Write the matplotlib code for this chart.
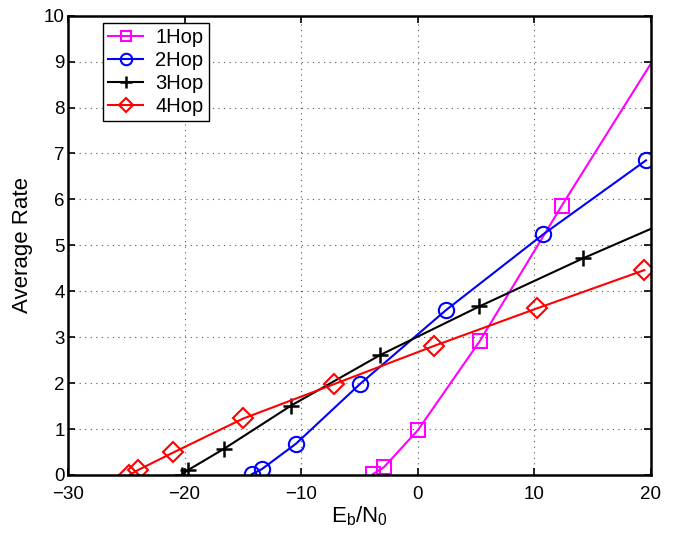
import matplotlib
matplotlib.use("Agg")
import matplotlib.pyplot as plt

plt.rcParams['font.family'] = ['Liberation Sans', 'DejaVu Sans']
plt.rcParams['mathtext.fontset'] = 'custom'
plt.rcParams['mathtext.rm'] = 'Liberation Sans'
plt.rcParams['mathtext.it'] = 'Liberation Sans'

# Data
x_1hop = [-3.84, -2.9, 0.02, 5.33, 12.34, 20.0]
y_1hop = [0.02, 0.17, 0.98, 2.92, 5.86, 8.96]

x_2hop = [-14.22, -13.36, -10.45, -4.96, 2.42, 10.76, 19.57]
y_2hop = [0.02, 0.13, 0.68, 1.98, 3.59, 5.24, 6.85]

x_3hop = [-20.25, -19.68, -16.62, -10.87, -3.24, 5.28, 14.2, 20.0]
y_3hop = [0.01, 0.11, 0.57, 1.51, 2.61, 3.67, 4.72, 5.36]

x_4hop = [-24.74, -23.97, -20.97, -14.96, -7.16, 1.39, 10.25, 19.43]
y_4hop = [0.0, 0.11, 0.49, 1.23, 1.98, 2.81, 3.63, 4.46]

labels = ['1Hop', '2Hop', '3Hop', '4Hop']
xticks = [-30, -20, -10, 0, 10, 20]
yticks = list(range(0, 11))

fig = plt.figure(figsize=(6.75, 5.34), dpi=100)
ax = fig.add_axes([0.1007, 0.1105, 0.8637, 0.8601])

ax.plot(x_1hop, y_1hop, color='#ff00ff', marker='s', ms=10, mfc='none', mew=1.5, lw=1.5,
        markevery=[0, 1, 2, 3, 4], label=labels[0])
ax.plot(x_2hop, y_2hop, color='#0000ff', marker='o', ms=11, mfc='none', mew=1.5, lw=1.5,
        label=labels[1])
ax.plot(x_3hop, y_3hop, color='black', marker='+', ms=12, mew=1.8, lw=1.5,
        markevery=[0, 1, 2, 3, 4, 5, 6], label=labels[2])
ax.plot(x_4hop, y_4hop, color='#ff0000', marker='D', ms=10, mfc='none', mew=1.5, lw=1.5,
        label=labels[3])

ax.set_xlim(-30, 20)
ax.set_ylim(0, 10)
ax.set_xticks(xticks)
ax.set_yticks(yticks)
ax.set_xticklabels(['\u2212' + str(-t) if t < 0 else str(t) for t in xticks])
ax.tick_params(direction='in', length=5, width=1.2, labelsize=13.5, top=True, right=True)
ax.tick_params(axis='x', pad=8)
ax.tick_params(axis='y', pad=2.5)
ax.grid(True, linestyle=(0, (1, 4)), color='#555555', linewidth=0.8)
for s in ax.spines.values():
    s.set_linewidth(1.8)

ax.set_xlabel('E$_\\mathregular{b}$/N$_\\mathregular{0}$', fontsize=16, labelpad=1)
ax.set_ylabel('Average Rate', fontsize=16, labelpad=8)

leg = ax.legend(loc='upper left', bbox_to_anchor=(0.06, 0.985), fontsize=14.5, frameon=True,
                fancybox=False, edgecolor='black', framealpha=1, borderpad=0.25,
                labelspacing=0.2, handlelength=1.75, handletextpad=0.6, borderaxespad=0,
                markerscale=0.75)
leg.get_frame().set_linewidth(1.0)

fig.savefig('out.png', dpi=100)
